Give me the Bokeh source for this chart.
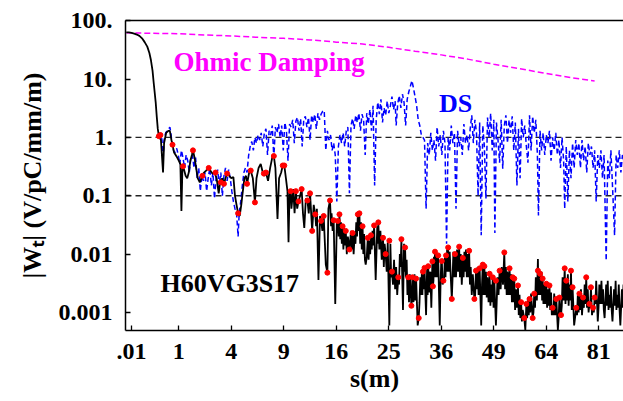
from bokeh.plotting import figure
from bokeh.models import Range1d, FixedTicker, LinearAxis, Span, Label
from bokeh.embed import file_html
from bokeh.resources import INLINE
import numpy as np

# ---- data (x positions are sqrt(s), s in metres) ----
ohmic = [(0.0, 62), (0.5, 61), (1.0, 60), (1.5, 57), (2.0, 55), (2.5, 52), (3.0, 50),
         (3.5, 47), (4.0, 43), (4.5, 40), (5.0, 35), (5.5, 30), (6.0, 26), (6.5, 22),
         (7.0, 18), (7.5, 15), (8.0, 12.5), (8.5, 10.5), (8.92, 9.3)]

h60 = [(0.00, 63), (0.05, 63), (0.10, 62), (0.15, 60), (0.20, 58), (0.25, 55), (0.30, 50),
       (0.35, 43), (0.40, 36), (0.44, 28), (0.47, 21), (0.50, 14), (0.52, 9), (0.54, 6),
       (0.56, 4), (0.58, 2.3), (0.60, 1.4), (0.62, 1.05),
       (0.66, 0.9), (0.70, 0.25), (0.72, 0.8), (0.76, 1.2), (0.80, 1.3), (0.83, 1.3),
       (0.86, 0.9), (0.88, 0.75), (0.91, 0.55), (0.94, 0.5), (0.97, 0.45), (1.00, 0.4),
       (1.03, 0.35), (1.05, 0.055), (1.07, 0.32), (1.10, 0.28), (1.13, 0.22), (1.16, 0.2),
       (1.19, 0.25), (1.22, 0.4), (1.25, 0.5), (1.27, 0.6), (1.30, 0.45), (1.33, 0.3),
       (1.36, 0.2), (1.40, 0.17), (1.45, 0.22), (1.48, 0.25), (1.52, 0.27), (1.57, 0.3),
       (1.60, 0.27), (1.64, 0.24), (1.68, 0.25), (1.72, 0.2), (1.76, 0.11), (1.79, 0.18),
       (1.83, 0.2), (1.86, 0.16), (1.89, 0.2), (1.92, 0.24), (1.96, 0.22), (2.00, 0.2),
       (2.04, 0.21), (2.07, 0.1), (2.10, 0.07), (2.13, 0.05), (2.16, 0.045), (2.19, 0.07),
       (2.22, 0.12), (2.25, 0.2),
       (2.28, 0.22), (2.30, 0.16), (2.34, 0.25), (2.37, 0.27), (2.41, 0.2), (2.45, 0.077),
       (2.48, 0.2), (2.52, 0.3), (2.56, 0.35), (2.60, 0.25), (2.63, 0.22), (2.66, 0.25),
       (2.70, 0.18), (2.74, 0.3), (2.78, 0.45), (2.81, 0.48), (2.84, 0.3), (2.88, 0.04),
       (2.91, 0.2), (2.95, 0.25), (2.98, 0.33), (3.01, 0.33), (3.04, 0.2),
       (3.07, 0.12), (3.09, 0.016), (3.11, 0.12), (3.13, 0.12), (3.18, 0.13), (3.23, 0.12),
       (3.28, 0.08), (3.31, 0.1), (3.34, 0.13), (3.39, 0.028), (3.42, 0.09), (3.45, 0.083),
       (3.50, 0.11), (3.54, 0.025), (3.57, 0.07), (3.60, 0.048), (3.63, 0.06), (3.66, 0.0036),
       (3.69, 0.045), (3.71, 0.037), (3.76, 0.045), (3.80, 0.0066), (3.83, 0.0048),
       (3.85, 0.06), (3.88, 0.083), (3.91, 0.05), (3.95, 0.038), (3.98, 0.0014), (4.01, 0.035),
       (4.03, 0.037), (4.06, 0.048), (4.09, 0.035), (4.12, 0.03), (4.15, 0.028), (4.18, 0.025),
       (4.22, 0.02), (4.25, 0.012), (4.28, 0.025), (4.31, 0.023), (4.35, 0.022), (4.38, 0.035),
       (4.41, 0.048), (4.44, 0.05), (4.47, 0.035), (4.50, 0.03), (4.53, 0.022), (4.56, 0.0066),
       (4.60, 0.019), (4.63, 0.017), (4.66, 0.021), (4.69, 0.025), (4.72, 0.031),
       (4.75, 0.0036), (4.78, 0.03), (4.80, 0.035), (4.84, 0.025), (4.89, 0.019), (4.92, 0.015),
       (4.94, 0.01), (4.98, 0.016), (5.01, 0.0006), (5.03, 0.015), (5.06, 0.005), (5.10, 0.008),
       (5.14, 0.006), (5.18, 0.004), (5.21, 0.01), (5.24, 0.018), (5.27, 0.0011), (5.29, 0.015),
       (5.31, 0.013), (5.34, 0.008), (5.37, 0.004), (5.40, 0.0045), (5.43, 0.0013),
       (5.45, 0.004), (5.49, 0.0045), (5.52, 0.0038), (5.55, 0.0006), (5.57, 0.0008),
       (5.60, 0.004), (5.63, 0.005), (5.65, 0.0052), (5.68, 0.0058), (5.71, 0.0009),
       (5.73, 0.006), (5.75, 0.0062), (5.79, 0.005), (5.81, 0.0012), (5.83, 0.0075),
       (5.84, 0.0028), (5.86, 0.009), (5.88, 0.011), (5.91, 0.009), (5.94, 0.0095),
       (5.97, 0.0006), (6.00, 0.008), (6.01, 0.0076), (6.04, 0.0035), (6.07, 0.01),
       (6.09, 0.0095), (6.11, 0.012), (6.13, 0.013), (6.16, 0.011), (6.20, 0.0017),
       (6.23, 0.011), (6.26, 0.01),
       (6.30, 0.012), (6.34, 0.0134), (6.37, 0.01), (6.41, 0.0086), (6.44, 0.011), (6.47, 0.012),
       (6.50, 0.01), (6.53, 0.0114), (6.56, 0.006), (6.60, 0.0045), (6.63, 0.0017),
       (6.66, 0.0052), (6.69, 0.006), (6.73, 0.0057), (6.76, 0.0006), (6.79, 0.0066),
       (6.82, 0.0062), (6.85, 0.005), (6.88, 0.004), (6.92, 0.0046), (6.95, 0.003),
       (6.98, 0.004), (7.01, 0.0035), (7.04, 0.0006), (7.07, 0.004), (7.11, 0.0052),
       (7.15, 0.006), (7.20, 0.0107), (7.23, 0.006), (7.26, 0.005), (7.30, 0.0057),
       (7.33, 0.0045), (7.36, 0.004), (7.39, 0.0038), (7.42, 0.0025), (7.46, 0.0029),
       (7.49, 0.002), (7.52, 0.0015), (7.55, 0.0011), (7.58, 0.0008), (7.60, 0.0005),
       (7.62, 0.0014), (7.65, 0.0018), (7.68, 0.0017), (7.71, 0.0021), (7.74, 0.0008),
       (7.77, 0.0021), (7.80, 0.004), (7.84, 0.0082), (7.86, 0.0052), (7.88, 0.0046),
       (7.91, 0.005), (7.93, 0.0038), (7.96, 0.003), (8.00, 0.0031), (8.03, 0.0025),
       (8.06, 0.0029), (8.09, 0.0022), (8.12, 0.0012), (8.15, 0.0021), (8.19, 0.0017),
       (8.22, 0.0005), (8.25, 0.0018), (8.28, 0.0009), (8.31, 0.004), (8.35, 0.0057),
       (8.38, 0.0035), (8.41, 0.0045), (8.44, 0.003), (8.47, 0.0052), (8.50, 0.0027),
       (8.53, 0.0006), (8.57, 0.0012), (8.60, 0.002), (8.63, 0.0021), (8.66, 0.0025),
       (8.70, 0.0018), (8.73, 0.003), (8.76, 0.004), (8.79, 0.0025), (8.82, 0.0014),
       (8.85, 0.0027), (8.89, 0.0012), (8.92, 0.0018), (8.95, 0.0035), (8.98, 0.0007),
       (9.01, 0.003), (9.05, 0.0035), (9.08, 0.0025), (9.11, 0.0008), (9.14, 0.003),
       (9.17, 0.0035), (9.20, 0.002), (9.23, 0.0028), (9.26, 0.0007), (9.29, 0.0025),
       (9.32, 0.0035), (9.35, 0.002), (9.38, 0.003), (9.41, 0.0006), (9.44, 0.0025),
       (9.47, 0.003), (9.49, 0.0028)]

# the fast oscillation troughs of the same H60VG3S17 trace (dense dark band)
h60_troughs = [(3.145, 0.06), (3.205, 0.05), (3.255, 0.06), (3.365, 0.05), (3.475, 0.05),
               (3.615, 0.03), (3.735, 0.025), (3.90, 0.03), (3.93, 0.025), (4.045, 0.02),
               (4.075, 0.018), (4.105, 0.015), (4.135, 0.012), (4.165, 0.014), (4.20, 0.01),
               (4.295, 0.012), (4.33, 0.01), (4.365, 0.015), (4.395, 0.02), (4.425, 0.025),
               (4.455, 0.015), (4.485, 0.012), (4.515, 0.01), (4.545, 0.008), (4.58, 0.009),
               (4.615, 0.008), (4.645, 0.01), (4.675, 0.012), (4.705, 0.014), (4.79, 0.015),
               (4.82, 0.012), (4.865, 0.008), (4.905, 0.006), (4.96, 0.005), (5.045, 0.004),
               (5.08, 0.003), (5.12, 0.0025), (5.16, 0.002), (5.195, 0.003), (5.225, 0.006),
               (5.30, 0.005), (5.325, 0.004), (5.355, 0.002), (5.385, 0.0015), (5.44, 0.0018),
               (5.47, 0.0015), (5.505, 0.0016), (5.585, 0.0015), (5.615, 0.002), (5.64, 0.002),
               (5.665, 0.0025), (5.72, 0.0025), (5.74, 0.002), (5.77, 0.0022), (5.85, 0.0035),
               (5.87, 0.004), (5.895, 0.004), (5.925, 0.004), (5.985, 0.003), (6.025, 0.003),
               (6.055, 0.004), (6.08, 0.004), (6.10, 0.005), (6.12, 0.005), (6.145, 0.005),
               (6.18, 0.004), (6.215, 0.004), (6.245, 0.004), (6.28, 0.004),
               (6.32, 0.005), (6.355, 0.004), (6.39, 0.003), (6.425, 0.004), (6.455, 0.005),
               (6.485, 0.004), (6.515, 0.004), (6.545, 0.003), (6.58, 0.002), (6.645, 0.002),
               (6.675, 0.0025), (6.71, 0.002), (6.775, 0.003), (6.805, 0.002), (6.835, 0.002),
               (6.865, 0.0018), (6.90, 0.0015), (6.935, 0.0013), (6.965, 0.0015),
               (6.995, 0.0012), (7.055, 0.0015), (7.09, 0.002), (7.13, 0.0025), (7.175, 0.003),
               (7.215, 0.0025), (7.245, 0.002), (7.28, 0.002), (7.315, 0.002), (7.345, 0.0015),
               (7.375, 0.0015), (7.405, 0.0011), (7.44, 0.0012), (7.475, 0.0009),
               (7.505, 0.0008), (7.535, 0.0007), (7.635, 0.0008), (7.665, 0.0009),
               (7.695, 0.001), (7.755, 0.001), (7.785, 0.0012), (7.82, 0.0016), (7.85, 0.002),
               (7.87, 0.002), (7.895, 0.002), (7.92, 0.0016), (7.945, 0.0014), (7.98, 0.0014),
               (8.015, 0.0012), (8.045, 0.0013), (8.075, 0.0011), (8.105, 0.0009),
               (8.135, 0.0009), (8.17, 0.0009), (8.235, 0.0008), (8.295, 0.0013),
               (8.33, 0.0016), (8.365, 0.0014), (8.395, 0.0016), (8.425, 0.0013),
               (8.455, 0.0016), (8.485, 0.0011), (8.585, 0.0009), (8.615, 0.001),
               (8.645, 0.0011), (8.68, 0.0009), (8.715, 0.0012), (8.745, 0.0014),
               (8.775, 0.0012), (8.805, 0.001), (8.835, 0.0012), (8.87, 0.0009),
               (8.905, 0.001), (8.935, 0.0014), (8.995, 0.0012), (9.03, 0.0014),
               (9.065, 0.0014), (9.095, 0.0011), (9.155, 0.0013), (9.185, 0.0011),
               (9.215, 0.0012), (9.245, 0.0011), (9.305, 0.0013), (9.335, 0.0011),
               (9.365, 0.0012), (9.395, 0.0011), (9.455, 0.0012), (9.48, 0.0013)]

h60_dots = [(0.62, 1.05), (0.65, 1.1), (0.88, 0.75), (1.08, 0.32), (1.27, 0.6), (1.45, 0.22),
            (1.57, 0.3), (1.70, 0.25), (1.80, 0.17), (1.86, 0.16), (1.92, 0.24), (2.13, 0.05),
            (2.30, 0.16), (2.37, 0.27), (2.45, 0.077), (2.62, 0.24), (2.66, 0.25), (2.81, 0.48),
            (2.98, 0.33), (3.01, 0.33), (3.13, 0.12), (3.23, 0.12), (3.28, 0.08), (3.34, 0.13),
            (3.45, 0.083), (3.50, 0.11), (3.54, 0.025), (3.60, 0.048), (3.71, 0.037),
            (3.76, 0.045), (3.83, 0.0048), (3.88, 0.083), (3.95, 0.038), (4.03, 0.037),
            (4.06, 0.048), (4.12, 0.03), (4.18, 0.025), (4.25, 0.012), (4.31, 0.023),
            (4.41, 0.048), (4.44, 0.05), (4.50, 0.03), (4.60, 0.019), (4.66, 0.021),
            (4.72, 0.031), (4.80, 0.035), (4.89, 0.019), (4.94, 0.01), (5.01, 0.017),
            (5.06, 0.005), (5.18, 0.004), (5.24, 0.018), (5.31, 0.013), (5.37, 0.004),
            (5.43, 0.0013), (5.45, 0.004), (5.52, 0.0038), (5.57, 0.0008), (5.65, 0.005),
            (5.68, 0.0058), (5.75, 0.0062), (5.83, 0.0075), (5.84, 0.0028), (5.88, 0.011),
            (5.94, 0.0095), (6.01, 0.0076), (6.04, 0.0035), (6.09, 0.0095), (6.13, 0.013),
            (6.20, 0.0017), (6.26, 0.01), (6.34, 0.0134), (6.41, 0.0086), (6.53, 0.0114),
            (6.63, 0.0017), (6.66, 0.0052), (6.73, 0.0057), (6.79, 0.0066), (6.82, 0.0062),
            (6.92, 0.0046), (6.98, 0.004), (7.04, 0.0035), (7.11, 0.0052), (7.20, 0.0107),
            (7.30, 0.0057), (7.36, 0.004), (7.39, 0.0038), (7.46, 0.0029), (7.52, 0.0015),
            (7.58, 0.0008), (7.62, 0.0014), (7.68, 0.0017), (7.74, 0.0008), (7.77, 0.0021),
            (7.84, 0.0052), (7.88, 0.0046), (7.93, 0.0038), (8.00, 0.0031), (8.06, 0.0029),
            (8.12, 0.0012), (8.19, 0.0017), (8.25, 0.0018), (8.28, 0.0009), (8.35, 0.0057),
            (8.38, 0.0035), (8.47, 0.0052), (8.50, 0.0027), (8.57, 0.0012), (8.63, 0.0021),
            (8.70, 0.0018), (8.76, 0.004), (8.82, 0.0014), (8.85, 0.0027), (8.89, 0.0012),
            (8.92, 0.0018)]

ds = [(0.62, 1.1), (0.65, 1.2), (0.68, 0.9), (0.70, 0.4), (0.72, 0.9), (0.75, 1.2), (0.78, 1.3),
      (0.81, 1.4), (0.83, 1.5), (0.85, 1.2), (0.87, 0.8), (0.90, 0.6), (0.93, 0.55), (0.96, 0.65),
      (0.99, 0.5), (1.02, 0.35), (1.05, 0.6), (1.08, 0.45), (1.11, 0.3), (1.14, 0.5), (1.17, 0.4),
      (1.20, 0.25), (1.23, 0.45), (1.26, 0.5), (1.29, 0.3), (1.32, 0.45), (1.35, 0.2), (1.38, 0.3),
      (1.41, 0.12), (1.44, 0.22), (1.47, 0.18), (1.50, 0.25), (1.53, 0.12), (1.56, 0.2),
      (1.59, 0.3), (1.62, 0.15), (1.65, 0.25), (1.68, 0.09), (1.71, 0.2), (1.74, 0.28),
      (1.77, 0.15), (1.80, 0.25), (1.83, 0.1), (1.86, 0.22), (1.89, 0.3), (1.92, 0.18),
      (1.95, 0.28), (1.98, 0.2), (2.01, 0.12), (2.04, 0.08), (2.07, 0.06), (2.10, 0.05),
      (2.13, 0.02), (2.15, 0.05), (2.18, 0.08), (2.21, 0.15), (2.24, 0.25), (2.27, 0.3),
      (2.30, 0.25), (2.33, 0.49), (2.36, 0.7), (2.39, 0.85), (2.42, 0.6), (2.45, 1.0),
      (2.48, 0.8), (2.51, 1.1), (2.54, 0.9), (2.57, 1.2), (2.60, 0.7), (2.63, 1.2), (2.66, 1.4),
      (2.69, 0.5), (2.72, 1.3), (2.75, 1.1), (2.78, 1.6), (2.81, 0.45), (2.84, 1.5), (2.87, 1.2),
      (2.90, 1.7), (2.93, 1.0), (2.96, 1.6), (2.99, 0.6), (3.02, 1.8), (3.05, 1.3), (3.08, 0.4),
      (3.11, 1.7), (3.14, 1.5), (3.17, 2.0), (3.20, 0.8), (3.23, 1.9), (3.26, 2.2), (3.29, 1.3),
      (3.32, 2.1), (3.35, 0.7), (3.38, 2.0), (3.41, 2.3), (3.44, 1.5), (3.47, 2.2), (3.50, 0.9),
      (3.53, 2.4), (3.56, 1.8), (3.59, 2.5), (3.62, 1.4), (3.65, 2.6), (3.68, 2.0), (3.71, 2.5),
      (3.74, 2.8), (3.77, 2.9), (3.80, 0.6), (3.83, 1.3), (3.86, 0.9), (3.89, 1.1), (3.92, 0.6),
      (3.95, 0.8), (3.98, 0.5), (4.01, 0.08), (4.04, 0.7), (4.07, 1.1), (4.10, 0.8),
      (4.13, 1.2), (4.16, 0.7), (4.19, 1.3), (4.22, 1.5), (4.25, 0.11), (4.28, 1.6), (4.31, 2.1),
      (4.34, 1.4), (4.37, 2.4), (4.40, 1.8), (4.43, 2.6), (4.46, 1.3), (4.49, 2.5), (4.52, 2.0),
      (4.55, 0.5), (4.58, 2.6), (4.61, 1.7), (4.64, 3.0), (4.67, 1.3), (4.70, 3.5), (4.73, 0.15),
      (4.76, 2.0), (4.79, 4.0), (4.82, 2.5), (4.85, 4.5), (4.88, 1.8), (4.91, 3.2), (4.94, 2.4),
      (4.97, 4.2), (5.00, 2.6), (5.03, 3.5), (5.06, 5.0), (5.09, 3.0), (5.12, 4.2), (5.14, 1.6),
      (5.17, 3.8), (5.20, 5.2), (5.23, 3.2), (5.26, 5.5), (5.29, 4.0), (5.32, 1.6), (5.35, 4.5),
      (5.38, 6.0), (5.41, 7.5), (5.44, 9.4), (5.47, 7.0), (5.50, 5.0), (5.53, 3.5), (5.56, 2.0),
      (5.59, 1.6), (5.62, 1.1), (5.65, 1.0), (5.68, 0.9), (5.71, 0.06), (5.74, 0.8), (5.77, 0.5),
      (5.80, 1.2), (5.83, 0.6), (5.86, 0.9), (5.89, 0.4), (5.92, 1.5), (5.95, 0.7), (5.98, 1.1),
      (6.01, 0.5), (6.04, 1.3), (6.07, 0.8), (6.10, 0.015), (6.13, 1.0), (6.16, 0.6),
      (6.19, 1.6), (6.22, 0.8), (6.25, 1.2), (6.28, 0.06), (6.31, 1.3), (6.34, 0.7), (6.37, 1.0),
      (6.40, 0.5), (6.43, 1.7), (6.46, 0.8), (6.49, 1.1), (6.52, 0.6), (6.55, 1.4), (6.58, 2.4),
      (6.61, 0.8), (6.64, 2.0), (6.67, 1.2), (6.70, 0.1), (6.73, 1.8), (6.76, 0.021),
      (6.79, 1.6), (6.82, 0.7), (6.85, 0.09), (6.88, 2.2), (6.91, 1.0), (6.94, 2.6), (6.97, 0.6),
      (7.00, 2.0), (7.02, 0.023), (7.05, 1.8), (7.08, 0.9), (7.11, 0.37), (7.14, 2.0),
      (7.17, 0.29), (7.20, 1.6), (7.23, 2.4), (7.26, 0.8), (7.29, 2.0), (7.32, 1.2), (7.35, 2.3),
      (7.38, 0.6), (7.41, 1.8), (7.44, 0.15), (7.47, 1.4), (7.50, 0.2), (7.53, 2.1), (7.56, 1.0),
      (7.59, 1.6), (7.62, 0.7), (7.65, 0.37), (7.68, 2.4), (7.71, 0.6), (7.74, 2.3), (7.77, 1.2),
      (7.80, 2.0), (7.83, 0.5), (7.85, 0.046), (7.88, 1.3), (7.91, 0.6), (7.94, 1.2), (7.97, 0.5),
      (8.00, 1.1), (8.03, 0.8), (8.06, 1.3), (8.09, 0.4), (8.12, 1.0), (8.15, 0.6), (8.18, 1.2),
      (8.21, 0.5), (8.24, 0.9), (8.27, 0.3), (8.30, 1.0), (8.33, 0.4), (8.35, 0.06), (8.38, 0.7),
      (8.41, 0.08), (8.44, 0.6), (8.47, 0.2), (8.50, 0.8), (8.53, 0.3), (8.56, 0.9), (8.59, 0.5),
      (8.62, 0.8), (8.65, 0.3), (8.68, 0.9), (8.71, 0.4), (8.74, 0.7), (8.77, 0.25), (8.80, 0.8),
      (8.83, 0.5), (8.86, 0.7), (8.89, 0.3), (8.92, 0.6), (8.95, 0.08), (8.98, 0.5), (9.01, 0.3),
      (9.04, 0.6), (9.07, 0.2), (9.10, 0.5), (9.14, 0.0077), (9.17, 0.4), (9.20, 0.2),
      (9.23, 0.6), (9.26, 0.15), (9.30, 0.021), (9.33, 0.5), (9.36, 0.3), (9.39, 0.6),
      (9.42, 0.25), (9.45, 0.5), (9.49, 0.35)]

s_ticks = [0.01, 1, 4, 9, 16, 25, 36, 49, 64, 81]
s_tick_labels = [".01", "1", "4", "9", "16", "25", "36", "49", "64", "81"]
w_ticks = [0.001, 0.01, 0.1, 1, 10, 100]
w_tick_labels = ["0.001", "0.01", "0.1", "1.", "10.", "100."]
ref_levels = [1, 0.1]

SERIF = "Liberation Serif"

p = figure(width=623, height=401, output_backend="svg", toolbar_location=None,
           x_range=Range1d(-0.015, 9.47), y_range=Range1d(0.00049, 101),
           y_axis_type="log", min_border_left=125, min_border_right=0,
           min_border_top=20, min_border_bottom=71)
p.outline_line_color = None
p.grid.visible = False
p.background_fill_color = "white"
p.border_fill_color = "white"

xt = [float(np.sqrt(s)) for s in s_ticks]
p.xaxis.ticker = FixedTicker(ticks=xt)
p.xaxis.major_label_overrides = {t: l for t, l in zip(xt, s_tick_labels)}
p.yaxis.ticker = FixedTicker(ticks=w_ticks)
p.yaxis.major_label_overrides = {t: l for t, l in zip(w_ticks, w_tick_labels)}

for ax in (p.xaxis[0], p.yaxis[0]):
    ax.axis_line_width = 1.5
    ax.axis_line_color = "black"
    ax.major_tick_in = 5
    ax.major_tick_out = 0
    ax.major_tick_line_width = 1.3
    ax.minor_tick_in = 0
    ax.minor_tick_out = 0
    ax.major_label_text_font = SERIF
    ax.major_label_text_font_style = "bold"
    ax.major_label_text_font_size = "24px"
    ax.major_label_text_color = "black"
    ax.axis_label_text_font = SERIF
    ax.axis_label_text_font_style = "bold"
    ax.axis_label_text_font_size = "26px"
    ax.axis_label_text_color = "black"

p.xaxis.axis_label = "s(m)"
p.xaxis.major_label_standoff = 13
p.xaxis.axis_label_standoff = 2
p.yaxis.axis_label = "|W\u209c| (V/pC/mm/m)"
p.yaxis.major_label_standoff = 13
p.yaxis.axis_label_standoff = 9

top = LinearAxis(ticker=FixedTicker(ticks=[]), axis_line_width=1.5, axis_line_color="black",
                 major_tick_in=0, major_tick_out=0, minor_tick_in=0, minor_tick_out=0,
                 major_label_text_font_size="0px", major_label_standoff=0)
p.add_layout(top, "above")

for lv in ref_levels:
    p.add_layout(Span(location=lv, dimension="width", line_color="#222222",
                      line_dash="6 4", line_width=1.3, level="underlay"))

ox, oy = zip(*ohmic)
p.line(list(ox), list(oy), line_color="#FF00FF", line_width=1.5, line_dash="6 3")

dx, dy = zip(*ds)
p.line(list(dx), list(dy), line_color="#0000FF", line_width=1.5, line_dash="5 3")

h_all = sorted(h60 + h60_troughs)
hx, hy = zip(*h_all)
p.line(list(hx), list(hy), line_color="black", line_width=1.8)

rx, ry = zip(*h60_dots)
p.scatter(list(rx), list(ry), size=5, fill_color="#FF0000", line_color="#FF0000")

p.add_layout(Label(x=0.9, y=19.3, text="Ohmic Damping", text_font=SERIF,
                   text_font_style="bold", text_font_size="27px", text_color="#FF00FF",
                   text_baseline="alphabetic"))
p.add_layout(Label(x=5.955, y=3.83, text="DS", text_font=SERIF,
                   text_font_style="bold", text_font_size="26px", text_color="#0000FF",
                   text_baseline="alphabetic"))
p.add_layout(Label(x=0.65, y=0.00316, text="H60VG3S17", text_font=SERIF,
                   text_font_style="bold", text_font_size="26px", text_color="black",
                   text_baseline="alphabetic"))

open("out.html", "w").write(file_html(p, INLINE))
